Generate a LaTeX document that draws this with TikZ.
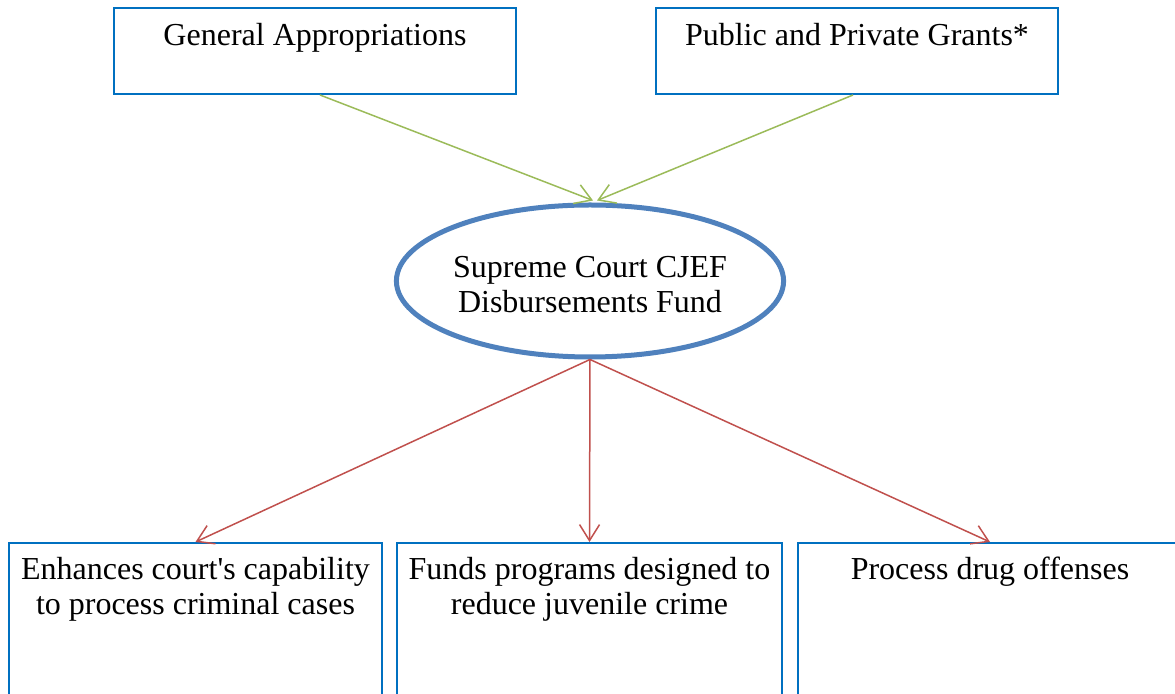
\documentclass[tikz,border=0pt]{standalone}
\usepackage{fontspec}
\setmainfont{Liberation Serif}
\usetikzlibrary{arrows.meta, shapes.geometric}
\definecolor{boxblue}{RGB}{0,112,192}
\definecolor{ovalblue}{RGB}{79,129,189}
\definecolor{ingreen}{RGB}{155,187,89}
\definecolor{outred}{RGB}{192,80,77}
\def\fundfont{\fontsize{16}{17.5}\selectfont}

\tikzset{
  fundbox/.style={draw=boxblue, line width=1pt, inner sep=0pt},
  boxtext/.style={anchor=north, align=center, inner sep=0pt, font=\fundfont},
  flowarrow/.style={line width=0.75pt, -{Straight Barb[length=8pt, width=10pt]}},
}

\begin{document}
\begin{tikzpicture}[x=0.5pt, y=-0.5pt]
  \useasboundingbox (0,0) rectangle (1175,694);
  \clip (0,0) rectangle (1175,694);

  % sources
  \node[fundbox, minimum width=201pt, minimum height=43pt] (genapp) at (315,51) {};
  \node[fundbox, minimum width=201pt, minimum height=43pt] (grants) at (857,51) {};
  \node[boxtext] (genapp-text) at ([yshift=-6.75pt]genapp.north) {\strut General Appropriations};
  \node[boxtext] (grants-text) at ([yshift=-6.75pt]grants.north) {\strut Public and Private Grants*};

  \node[ellipse, draw=ovalblue, line width=2.5pt, minimum width=190pt, minimum height=76pt,
    inner sep=0pt, align=center, font=\fundfont] (cjef) at (590,281)
    {\rule{0pt}{14pt}Supreme Court CJEF\\Disbursements Fund};

  % uses
  \node[fundbox, minimum width=186.5pt, minimum height=100pt] (courts) at (195.5,643) {};
  \node[fundbox, minimum width=192.5pt, minimum height=100pt] (juvenile) at (589.5,643) {};
  \node[fundbox, minimum width=192pt, minimum height=100pt] (drugs) at (990,643) {};
  \node[boxtext] (courts-text) at ([yshift=-6.5pt]courts.north)
    {\strut Enhances court\textquotesingle s capability\\to process criminal cases};
  \node[boxtext] (juvenile-text) at ([yshift=-6.5pt]juvenile.north)
    {\strut Funds programs designed to\\reduce juvenile crime};
  \node[boxtext] (drugs-text) at ([yshift=-6.5pt]drugs.north) {\strut Process drug offenses};

  \draw[flowarrow, ingreen] ([xshift=2.5pt]genapp.south) -- ([xshift=1.5pt, yshift=1pt]cjef.north);
  \draw[flowarrow, ingreen] ([xshift=-2pt]grants.south) -- ([xshift=3.5pt, yshift=1pt]cjef.north);

  \foreach \target in {courts, juvenile, drugs}
    \draw[flowarrow, outred] (cjef.south) -- (\target.north);
\end{tikzpicture}
\end{document}
